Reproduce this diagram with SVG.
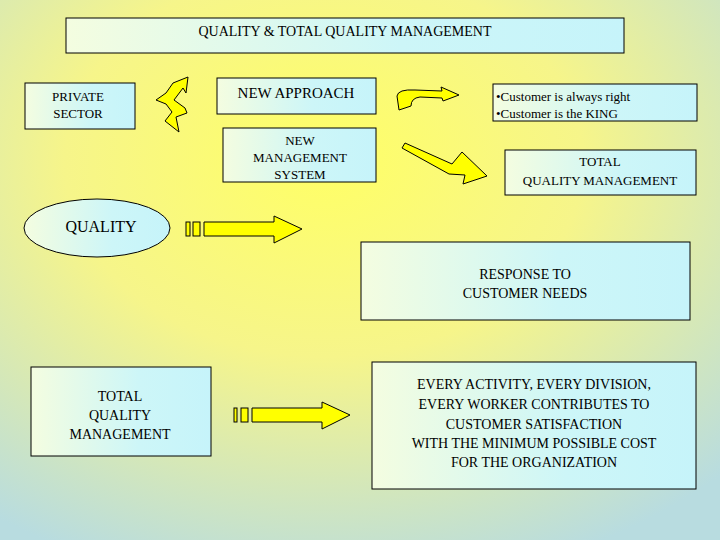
<svg xmlns="http://www.w3.org/2000/svg" width="720" height="540" viewBox="0 0 720 540">
<defs>
<radialGradient id="bg" cx="0.45" cy="0.3" r="0.8">
<stop offset="0" stop-color="#ffff66"/><stop offset="0.45" stop-color="#f6f58a"/><stop offset="1" stop-color="#b8dce0"/>
</radialGradient>
<linearGradient id="bx" x1="0" x2="1" y1="0" y2="0"><stop offset="0" stop-color="#f4fde0"/><stop offset="0.6" stop-color="#cdf6f8"/><stop offset="1" stop-color="#c6f4fa"/></linearGradient>
<style>
.b{fill:url(#bx);stroke:#000;stroke-width:1}
.a{fill:#ffff00;stroke:#000;stroke-width:1}
.t{font-family:"Liberation Serif","DejaVu Serif","Times New Roman",serif}
</style>
</defs>
<rect width="720" height="540" fill="url(#bg)"/>
<g class="t" font-size="14" text-anchor="middle" fill="#000">
<g id="title"><rect class="b" x="66" y="18" width="558" height="35"/><text x="345" y="36">QUALITY &amp; TOTAL QUALITY MANAGEMENT</text></g>
<g id="private"><rect class="b" x="25" y="83" width="110" height="46"/><text x="78" y="101" font-size="13">PRIVATE</text><text x="78" y="118" font-size="13">SECTOR</text></g>
<g id="newapproach"><rect class="b" x="217" y="78" width="159" height="36"/><text x="296" y="98" font-size="15">NEW APPROACH</text></g>
<g id="nms"><rect class="b" x="223" y="128" width="153" height="54"/><text x="300" y="145" font-size="13">NEW</text><text x="300" y="162" font-size="13">MANAGEMENT</text><text x="300" y="179" font-size="13">SYSTEM</text></g>
<g id="customer"><rect class="b" x="493" y="84" width="204" height="37"/><text x="496" y="101" text-anchor="start" font-size="13">•Customer is always right</text><text x="496" y="118" text-anchor="start" font-size="13">•Customer is the KING</text></g>
<g id="tqm1"><rect class="b" x="505" y="150" width="191" height="45"/><text x="600" y="166" font-size="13">TOTAL</text><text x="600" y="185" font-size="13">QUALITY MANAGEMENT</text></g>
<g id="quality"><ellipse class="b" cx="97" cy="228" rx="73" ry="29"/><text x="101" y="232" font-size="16">QUALITY</text></g>
<g id="response"><rect class="b" x="361" y="242" width="329" height="78"/><text x="525" y="279">RESPONSE TO</text><text x="525" y="298">CUSTOMER NEEDS</text></g>
<g id="tqm2"><rect class="b" x="31" y="367" width="180" height="89"/><text x="120" y="401">TOTAL</text><text x="120" y="420">QUALITY</text><text x="120" y="439">MANAGEMENT</text></g>
<g id="every"><rect class="b" x="372" y="362" width="324" height="127"/><text x="534" y="389">EVERY ACTIVITY, EVERY DIVISION,</text><text x="534" y="409">EVERY WORKER CONTRIBUTES TO</text><text x="534" y="429">CUSTOMER SATISFACTION</text><text x="534" y="448">WITH THE MINIMUM POSSIBLE COST</text><text x="534" y="467">FOR THE ORGANIZATION</text></g>
</g>
<g id="connectors">
<path class="a" d="M173,83 L188,77 L186,93 L183,88 L174,100 L185,108 L187,113 L176,117 L179,132 L165,121 L172,112 L166,104 L156,100 L166,93 Z"/>
<path class="a" d="M397,96 Q398,89 415,90 L442,91 L441,87 L459,95 L443,101 L442,98 L420,97 Q411,98 411,106 L399,110 Z"/>
<path class="a" d="M402,148 L405,143 L452,164 L462,152 L487,176 L463,184 L465,175 L449,174 Z"/>
<rect class="a" x="186" y="222" width="4" height="14"/><rect class="a" x="193" y="222" width="7" height="14"/>
<path class="a" d="M204,222 L274,222 L274,216 L302,229 L274,243 L274,236 L204,236 Z"/>
<rect class="a" x="234" y="408" width="3" height="14"/><rect class="a" x="241" y="408" width="7" height="14"/>
<path class="a" d="M252,408 L322,408 L322,402 L350,415 L322,429 L322,422 L252,422 Z"/>
</g>
</svg>
